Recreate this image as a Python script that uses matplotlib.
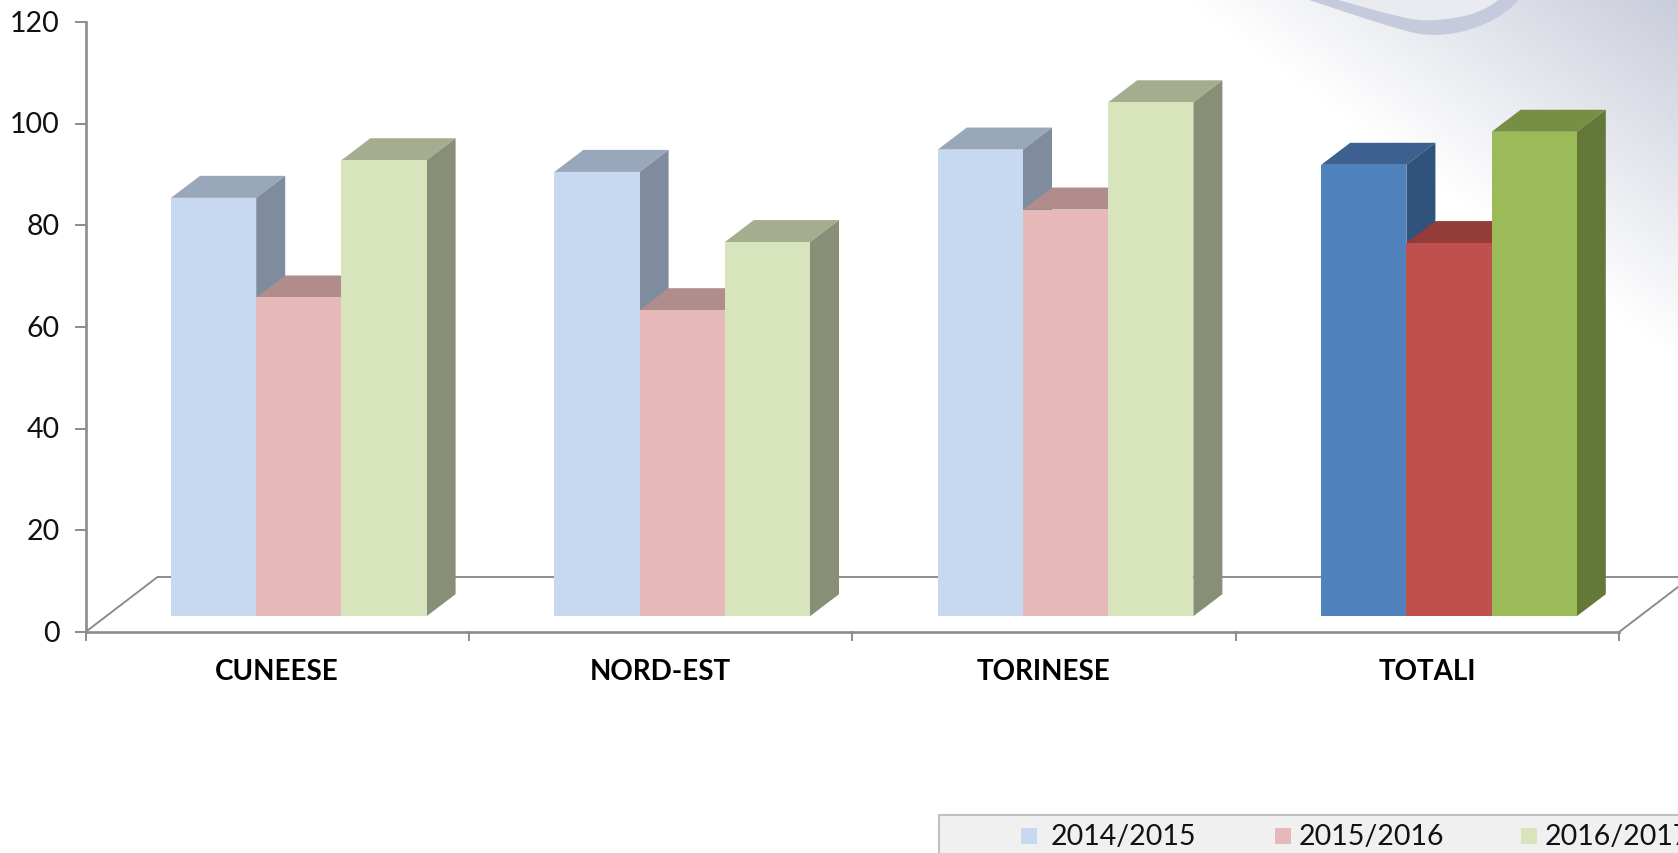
#!/usr/bin/env python
# coding: utf-8
# istogramma finto 3D a barre raggruppate

import numpy as np
import matplotlib
matplotlib.use("Agg")
import matplotlib.pyplot as plt
from matplotlib.patches import Polygon, Rectangle

plt.rcParams['font.family'] = ['Lato', 'DejaVu Sans']

categories = ["CUNEESE", "NORD-EST", "TORINESE", "TOTALI"]
years = ["2014/2015", "2015/2016", "2016/2017"]
values_2014 = [82.3, 87.4, 91.8, 88.8]
values_2015 = [62.7, 60.2, 80.0, 73.4]
values_2016 = [89.7, 73.6, 101.1, 95.3]
yticks = [0, 20, 40, 60, 80, 100, 120]

# colori: front, top, side
pale = [("#c6d9f1", "#98a7ba", "#7e8c9d"),
        ("#e6b8b7", "#b08d8c", "#a08e8d"),
        ("#d7e4bc", "#a4ae8f", "#878f77")]
solid = [("#4f81bd", "#3c6190", "#31527a"),
         ("#c0504d", "#933c3a", "#933c3a"),
         ("#9bbb59", "#778f44", "#647839")]

W, H = 1678, 854
fig = plt.figure(figsize=(W / 100, H / 100), dpi=100)

# sfondo sfumato in alto a destra
bg = fig.add_axes([0, 0, 1, 1], zorder=0)
xx, yy = np.meshgrid(np.arange(W), np.arange(H))
s = np.clip((xx - 1185) / 493 - yy / 360, 0, 1)
t = s[..., None]
img = (1 - t) * np.array([1, 1, 1]) + t * np.array([0.788, 0.804, 0.855])
bg.imshow(img, extent=[0, W, H, 0], aspect='auto', zorder=0)

# ricciolo decorativo
low_x = [1300, 1406, 1435, 1469, 1502, 1522]
low_y = [-2, 33, 37, 32, 17, -2]
up_x = [1328, 1406, 1432, 1469, 1491, 1502]
up_y = [-2, 20, 22, 17, 7, -2]
def smooth(px, py, n=8):
    # tagli di Chaikin per arrotondare la spezzata
    p = np.column_stack([px, py]).astype(float)
    for _ in range(n // 2):
        q = 0.75 * p[:-1] + 0.25 * p[1:]
        r = 0.25 * p[:-1] + 0.75 * p[1:]
        p = np.vstack([p[0], np.column_stack([q, r]).reshape(-1, 2), p[-1]])
    return p
low = smooth(low_x, low_y)
up = smooth(up_x, up_y)
bg.add_patch(Polygon(np.vstack([up, low[::-1]]), closed=True, facecolor="#c5cadc", edgecolor="none", zorder=2))
bg.add_patch(Polygon(up, closed=True, facecolor="#e9ebf1", edgecolor="none", zorder=1))
bg.plot([1672, 1670, 1671, 1675], [85, 100, 115, 128], color="#d9dce6", lw=2, zorder=1)
bg.set_xlim(0, W)
bg.set_ylim(H, 0)
bg.axis('off')

# assi: 0 a y=633, 120 a y=23, categorie larghe 383.4 px
x0, y0, y120 = 85.5, 633, 23
cat_px = 383.4
val_px = (y0 - y120) / 120
ax = fig.add_axes([x0 / W, 0, 1 - x0 / W, 1 - y120 / H], zorder=1)
ax.patch.set_alpha(0)
ax.set_xlim(0, (W - x0) / cat_px)
ax.set_ylim(-(H - y0) / val_px, 120)
ax.axis('off')

dx = 29 / cat_px
dy = 22 / val_px
bar_w = 85.2 / cat_px
start = 0.223
base = 15.8 / val_px
n_cat = len(categories)

# pavimento e assi
axis_line = dict(color="#8c8c8c", lw=1.9, clip_on=False, zorder=1)
thin_line = dict(color="#8c8c8c", lw=1.4, clip_on=False, zorder=1)
floor_dx = 72 / cat_px
floor_dy = 55 / val_px
ax.plot([0, 0], [0, 120], **axis_line)
ax.plot([0, n_cat], [0, 0], **axis_line)
ax.plot([0, floor_dx], [0, floor_dy], **thin_line)
ax.plot([floor_dx, 5], [floor_dy, floor_dy], **thin_line)
ax.plot([n_cat, n_cat + floor_dx], [0, floor_dy], **thin_line)
for v in yticks:
    ax.plot([-10 / cat_px, 0], [v, v], **thin_line)
    ax.text(-26 / cat_px, v - 0.1, str(v), ha='right', va='center', fontsize=20.5,
            color="#111111")
for i in range(n_cat + 1):
    ax.plot([i, i], [0, -8 / val_px], **thin_line)
for i, c in enumerate(categories):
    ax.text(i + 0.5, -(672 - y0) / val_px, c, ha='center', va='center',
            fontsize=20, fontweight='bold', color="black")

series = [values_2014, values_2015, values_2016]
for i in range(n_cat):
    cols = solid if i == n_cat - 1 else pale
    for j, vals in enumerate(series):
        left = i + start + j * bar_w
        top = vals[i] + base
        front, topc, side = cols[j]
        z = 2 + j
        ax.add_patch(Polygon([(left, top), (left + bar_w, top),
                              (left + bar_w + dx, top + dy), (left + dx, top + dy)],
                             closed=True, facecolor=topc, edgecolor='none', zorder=z))
        ax.add_patch(Polygon([(left + bar_w, base), (left + bar_w + dx, base + dy),
                              (left + bar_w + dx, top + dy), (left + bar_w, top)],
                             closed=True, facecolor=side, edgecolor='none', zorder=z))
        ax.bar(left, vals[i], width=bar_w, bottom=base, align='edge', color=front,
               linewidth=0, antialiased=False, zorder=z + 0.5)

# legenda
leg = fig.add_axes([0, 0, 1, 1], zorder=2)
leg.patch.set_alpha(0)
leg.set_xlim(0, W)
leg.set_ylim(H, 0)
leg.axis('off')
leg.add_patch(Rectangle((939, 815.5), 800, 60, facecolor="#f0f0f0", edgecolor="#bfbfbf", lw=1.5))
for sx, tx, y, cols in zip([1021, 1275, 1521], [1051, 1299, 1545], years, pale):
    leg.add_patch(Rectangle((sx, 829), 16, 16, facecolor=cols[0], edgecolor='none'))
    leg.text(tx, 837.5, y, ha='left', va='center', fontsize=20.5, color="#111111")

fig.savefig("out.png", dpi=100)
